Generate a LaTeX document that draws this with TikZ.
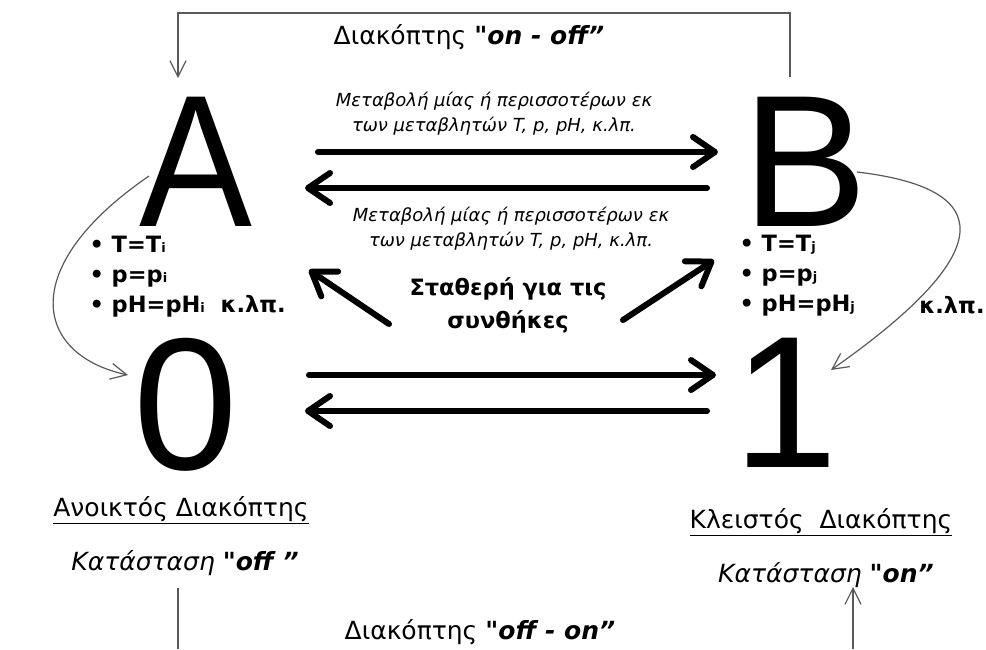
\documentclass[tikz,border=0pt]{standalone}
\usepackage{fontspec}
\setmainfont{DejaVu Sans}[Ligatures=TeXOff]
\newfontfamily\bigfont{Liberation Sans}
\usetikzlibrary{arrows.meta}
\newcommand{\lowidx}[1]{{\fontsize{13}{13}\selectfont #1}}
\tikzset{
  bigarrow/.style={line width=6pt, line cap=round, -{Straight Barb[length=22pt,width=30pt,round]}},
  thinarrow/.style={draw=black!65, line width=1.2pt, -{Straight Barb[length=16pt,width=16pt]}},
  thinline/.style={draw=black!65, line width=1.2pt},
  bigletter/.style={font=\bigfont\fontsize{188}{188}\selectfont, inner sep=0pt,
    text height=134pt, text depth=0pt},
  label/.style={font=\fontsize{25}{25}\selectfont},
  change/.style={font=\itshape\fontsize{18}{25}\selectfont, align=center},
  cond/.style={font=\bfseries\fontsize{22.5}{30}\selectfont, align=left, anchor=west},
}
\begin{document}
\begin{tikzpicture}[x=1pt, y=-1pt]
  \useasboundingbox (0,0) rectangle (986,649);
  % big state letters
  \node[bigletter, xscale=0.9] (A) at (196,159) {A};
  \node[bigletter] (B) at (805,159) {B};
  \node[bigletter] (zero) at (186,402) {0};
  \node[bigletter] (one) at (786,400) {1};
  % texts
  \node[label] (onoff) at (469,37) {Διακόπτης \textbf{\textit{"on - off”}}};
  \node[change] (up) at (494,114)
    {Μεταβολή μίας ή περισσοτέρων εκ\\των μεταβλητών T, p, pH, κ.λπ.};
  \node[change] (down) at (511,229)
    {Μεταβολή μίας ή περισσοτέρων εκ\\των μεταβλητών T, p, pH, κ.λπ.};
  \node[font=\bfseries\fontsize{22.5}{33}\selectfont, align=center] (const) at (508,305)
    {Σταθερή για τις\\συνθήκες};
  \node[cond] (condA) at (86,277)
    {• T=T\lowidx{i}\\• p=p\lowidx{i}\\• pH=pH\lowidx{i}\ \ κ.λπ.};
  \node[cond] (condB) at (736,276)
    {• T=T\lowidx{j}\\• p=p\lowidx{j}\\• pH=pH\lowidx{j}};
  \node[font=\bfseries\fontsize{22.5}{22.5}\selectfont] (etc) at (952,305) {κ.λπ.};
  \node[label] (open) at (181,510) {\underline{Ανοικτός Διακόπτης}};
  \node[label, font=\itshape\fontsize{25}{25}\selectfont] (off) at (185,563) {Κατάσταση\ \textbf{"off ”}};
  \node[label] (closed) at (821,522) {\underline{Κλειστός\ \ Διακόπτης}};
  \node[label, font=\itshape\fontsize{25}{25}\selectfont] (on) at (826,575) {Κατάσταση\ \textbf{"on”}};
  \node[label] (offon) at (480,632) {Διακόπτης \textbf{\textit{"off - on”}}};
  % free ends
  \coordinate (a1) at (318,152); \coordinate (b1) at (718,152);
  \coordinate (b2) at (707,188); \coordinate (a2) at (305,188);
  \coordinate (c1) at (389,324); \coordinate (a3) at (309,270);
  \coordinate (c2) at (623,320); \coordinate (b3) at (714,260);
  \coordinate (z1) at (309,375); \coordinate (o1) at (716,375);
  \coordinate (o2) at (707,411); \coordinate (z2) at (305,411);
  \coordinate (tl) at (178,13); \coordinate (tr) at (790,13);
  \coordinate (ta) at (178,78); \coordinate (tb) at (790,77);
  \coordinate (bl) at (178,588); \coordinate (bl2) at (178,649);
  \coordinate (br) at (853,649); \coordinate (br2) at (853,587);
  \coordinate (sa) at (149,176); \coordinate (ez) at (128,375);
  \coordinate (sb) at (857,172); \coordinate (eo) at (831,370);
  % thick arrows
  \begin{scope}[bigarrow]
    \draw (a1) -- (b1);
    \draw (b2) -- (a2);
    \draw (c1) -- (a3);
    \draw (c2) -- (b3);
    \draw (z1) -- (o1);
    \draw (o2) -- (z2);
  \end{scope}
  % switch lines
  \draw[thinarrow] (tb) -- (tr) -- (tl) -- (ta);
  \draw[thinline] (bl) -- (bl2);
  \draw[thinarrow] (br) -- (br2);
  \draw[thinarrow] (sa) .. controls (15,268) and (35,355) .. (ez);
  \draw[thinarrow] (sb) .. controls (1010,190) and (985,262) .. (eo);
\end{tikzpicture}
\end{document}
